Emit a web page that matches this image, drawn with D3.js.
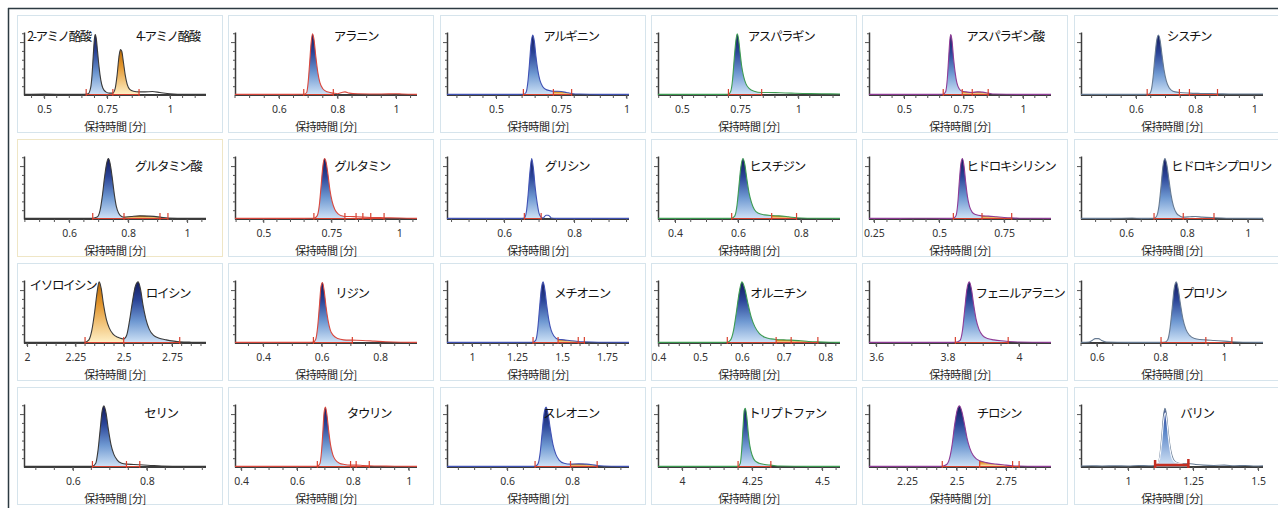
<!DOCTYPE html>
<html>
<head>
<meta charset="utf-8">
<script src="https://cdn.jsdelivr.net/npm/d3@7"></script>
<style>
  body { margin: 0; background: #fff; }
  .x-major text { font-family: "Noto Sans", "DejaVu Sans", sans-serif; font-size: 10.5px; fill: #333; }
  .x-major line, .x-minor line, .y-ticks line { stroke: #555; }
  .x-minor path { stroke: #3c3c3c; stroke-width: 2; }
  .y-ticks path { stroke: #3c3c3c; stroke-width: 1.5; }
  .title { font-family: "Noto Sans CJK JP", sans-serif; font-size: 12.5px; letter-spacing: -1.4px; fill: #111; }
  .xlabel { font-family: "Noto Sans CJK JP", sans-serif; font-size: 11px; letter-spacing: -0.4px; fill: #222; }
</style>
</head>
<body>
<div id="chart-area"></div>
<script>

// panel names (one or two compounds per panel)
var panelNames = [
  ["2-アミノ酪酸", "4-アミノ酪酸"], ["アラニン"], ["アルギニン"], ["アスパラギン"], ["アスパラギン酸"], ["シスチン"],
  ["グルタミン酸"], ["グルタミン"], ["グリシン"], ["ヒスチジン"], ["ヒドロキシリシン"], ["ヒドロキシプロリン"],
  ["イソロイシン", "ロイシン"], ["リジン"], ["メチオニン"], ["オルニチン"], ["フェニルアラニン"], ["プロリン"],
  ["セリン"], ["タウリン"], ["スレオニン"], ["トリプトファン"], ["チロシン"], ["バリン"]
];

// retention time window of each panel [min]
var xDomains = [
  [0.42, 1.143], [0.45, 1.072], [0.312, 1.01], [0.397, 1.18], [0.353, 1.118], [0.414, 1.03],
  [0.447, 1.064], [0.396, 1.065], [0.437, 0.957], [0.346, 0.924], [0.231, 0.93], [0.452, 1.05],
  [1.984, 2.926], [0.304, 0.926], [0.861, 1.872], [0.399, 0.835], [3.58, 4.09], [0.55, 1.123],
  [0.468, 0.96], [0.378, 1.03], [0.415, 0.975], [3.914, 4.564], [2.058, 2.977], [0.819, 1.519]
];

// labelled ticks
var xMajorTicks = [
  [0.5, 0.75, 1], [0.6, 0.8, 1], [0.5, 0.75, 1], [0.5, 0.75, 1], [0.5, 0.75, 1], [0.6, 0.8, 1],
  [0.6, 0.8, 1], [0.5, 0.75, 1], [0.6, 0.8], [0.4, 0.6, 0.8], [0.25, 0.5, 0.75], [0.6, 0.8, 1],
  [2, 2.25, 2.5, 2.75], [0.4, 0.6, 0.8], [1, 1.25, 1.5, 1.75], [0.4, 0.5, 0.6, 0.7, 0.8], [3.6, 3.8, 4], [0.6, 0.8, 1],
  [0.6, 0.8], [0.4, 0.6, 0.8, 1], [0.6, 0.8], [4, 4.25, 4.5], [2.25, 2.5, 2.75], [1, 1.25, 1.5]
];
var xMinorSteps = [0.05, 0.05, 0.05, 0.05, 0.05, 0.05, 0.05, 0.05, 0.05, 0.05, 0.05, 0.05,
  0.05, 0.05, 0.05, 0.025, 0.05, 0.05, 0.05, 0.05, 0.05, 0.05, 0.05, 0.05];

// chromatogram traces [time, relative intensity %]
var traces = [
  [[0.42,1],[0.5,1.5],[0.6,1],[0.66,1.2],[0.675,2],[0.685,12],[0.69,30],[0.695,62],[0.70,90],[0.703,96],[0.707,90],[0.712,70],[0.718,45],[0.725,24],[0.733,11],[0.745,5],[0.76,3],[0.773,3],[0.782,10],[0.79,32],[0.797,60],[0.803,72],[0.808,70],[0.815,52],[0.822,32],[0.83,17],[0.84,9],[0.855,6],[0.877,5],[0.9,5],[0.93,5.5],[0.96,4],[1.0,2],[1.06,1],[1.143,1]],
  [[0.45,1],[0.55,1],[0.65,1],[0.685,1.2],[0.695,4],[0.7,20],[0.705,50],[0.71,82],[0.715,97],[0.72,88],[0.726,62],[0.733,36],[0.74,20],[0.75,10],[0.765,5],[0.786,3],[0.80,2],[0.815,4],[0.826,5],[0.84,3],[0.87,2],[0.95,1.5],[1.0,2],[1.02,1.5],[1.072,1]],
  [[0.312,1],[0.45,1],[0.58,1],[0.605,1.2],[0.615,4],[0.622,20],[0.628,48],[0.634,80],[0.641,95],[0.647,85],[0.653,62],[0.66,40],[0.668,24],[0.678,14],[0.69,9],[0.705,7],[0.72,6],[0.735,6],[0.75,5.5],[0.77,4],[0.79,2.5],[0.82,1.5],[0.9,1],[1.01,1]],
  [[0.397,1],[0.55,1],[0.68,1],[0.70,1.2],[0.71,6],[0.718,25],[0.725,58],[0.732,86],[0.738,97],[0.744,88],[0.75,68],[0.757,46],[0.765,30],[0.775,18],[0.79,10],[0.81,6],[0.843,4],[0.87,4],[0.92,3.5],[0.97,3],[1.02,2.5],[1.1,2],[1.18,1.5]],
  [[0.353,1],[0.5,1],[0.64,1],[0.665,1.2],[0.675,5],[0.682,25],[0.688,60],[0.693,88],[0.697,96],[0.702,86],[0.708,60],[0.715,36],[0.722,20],[0.732,10],[0.745,6],[0.76,5],[0.787,4],[0.81,5],[0.83,4.5],[0.854,3],[0.88,1.5],[1.0,1],[1.118,1]],
  [[0.414,1],[0.55,1],[0.63,1],[0.645,1.5],[0.652,8],[0.658,28],[0.664,60],[0.67,86],[0.676,95],[0.682,86],[0.688,64],[0.695,40],[0.703,22],[0.713,11],[0.725,6],[0.747,4],[0.781,3],[0.82,2.5],[0.876,2],[0.93,1.5],[1.03,1.5]],
  [[0.447,1],[0.55,1],[0.66,1],[0.68,1.2],[0.695,3],[0.705,14],[0.713,38],[0.72,66],[0.727,88],[0.733,96],[0.739,88],[0.746,66],[0.753,40],[0.76,20],[0.768,9],[0.778,4],[0.786,3],[0.81,4],[0.84,5],[0.87,4.5],[0.908,3],[0.935,1.5],[1.0,1],[1.064,1]],
  [[0.396,1],[0.5,1],[0.65,1],[0.686,1.2],[0.698,5],[0.706,22],[0.713,55],[0.719,84],[0.725,96],[0.731,90],[0.738,70],[0.745,46],[0.753,28],[0.763,15],[0.775,8],[0.788,5],[0.80,4],[0.82,4],[0.841,3.5],[0.866,3],[0.895,2.5],[0.944,2],[1.0,1.5],[1.065,1]],
  [[0.437,1],[0.55,1],[0.645,1],[0.658,1.5],[0.664,12],[0.669,40],[0.674,75],[0.679,96],[0.684,80],[0.689,50],[0.695,24],[0.70,9],[0.706,3],[0.712,1.5],[0.716,4],[0.72,6],[0.726,6],[0.731,4],[0.735,1.5],[0.75,1],[0.85,1],[0.957,1]],
  [[0.346,1],[0.45,1],[0.57,1],[0.58,1.3],[0.59,5],[0.597,22],[0.603,52],[0.609,82],[0.616,96],[0.622,86],[0.628,64],[0.635,42],[0.643,26],[0.652,15],[0.665,9],[0.685,6.5],[0.707,5.5],[0.73,5],[0.76,3.5],[0.786,2],[0.82,1.3],[0.924,1]],
  [[0.231,1],[0.35,1],[0.45,1.2],[0.54,1],[0.555,1.3],[0.565,5],[0.572,25],[0.578,60],[0.584,88],[0.59,96],[0.596,84],[0.602,60],[0.609,36],[0.617,20],[0.627,11],[0.64,7],[0.665,5],[0.69,4.5],[0.72,3.5],[0.75,2.5],[0.779,1.8],[0.82,1.2],[0.93,1]],
  [[0.452,1],[0.55,1],[0.62,1.5],[0.65,1],[0.692,1.3],[0.70,4],[0.708,20],[0.715,52],[0.721,83],[0.728,96],[0.734,86],[0.741,62],[0.748,38],[0.756,20],[0.766,9],[0.778,4.5],[0.788,3],[0.81,3.5],[0.828,4],[0.85,3],[0.889,2],[0.93,1.3],[1.05,1]],
  [[1.984,1],[2.1,1],[2.22,1],[2.30,1.3],[2.32,5],[2.335,20],[2.35,50],[2.362,80],[2.373,97],[2.384,86],[2.395,62],[2.41,38],[2.425,24],[2.445,14],[2.47,9],[2.49,7],[2.50,6.5],[2.515,12],[2.53,35],[2.545,65],[2.56,90],[2.575,97],[2.588,84],[2.60,60],[2.615,38],[2.632,22],[2.655,12],[2.68,8],[2.72,5],[2.76,3],[2.79,2],[2.85,1.3],[2.926,1]],
  [[0.304,1],[0.45,1],[0.56,1],[0.572,1.5],[0.58,6],[0.587,28],[0.593,62],[0.598,90],[0.603,96],[0.609,82],[0.615,58],[0.622,36],[0.63,20],[0.64,12],[0.655,7],[0.675,5],[0.705,4.5],[0.74,4],[0.78,3],[0.82,2],[0.87,1.3],[0.926,1]],
  [[0.861,1],[1.0,1],[1.2,1],[1.339,1.3],[1.355,5],[1.365,22],[1.375,55],[1.385,86],[1.395,97],[1.405,84],[1.415,60],[1.427,36],[1.44,20],[1.455,11],[1.478,6],[1.51,5],[1.55,3.5],[1.59,2.5],[1.624,2],[1.7,1.3],[1.872,1]],
  [[0.399,1],[0.48,1],[0.55,1],[0.565,1.3],[0.573,5],[0.58,20],[0.587,50],[0.594,82],[0.60,97],[0.607,86],[0.614,64],[0.622,42],[0.631,26],[0.642,15],[0.655,9],[0.67,6.5],[0.682,5.5],[0.70,5],[0.718,4.5],[0.74,3.5],[0.76,2.5],[0.782,1.8],[0.81,1.2],[0.835,1]],
  [[3.58,1],[3.7,1],[3.8,1],[3.822,1.3],[3.835,4],[3.842,20],[3.848,52],[3.854,84],[3.861,97],[3.867,86],[3.873,62],[3.88,38],[3.888,22],[3.898,12],[3.912,7],[3.93,5],[3.95,3.5],[3.97,2.5],[4.0,1.5],[4.09,1]],
  [[0.55,1],[0.575,1.5],[0.585,4],[0.595,7],[0.605,7],[0.615,4],[0.63,1.5],[0.7,1],[0.8,1],[0.815,1.5],[0.823,5],[0.83,22],[0.837,55],[0.843,85],[0.85,97],[0.856,86],[0.863,62],[0.871,38],[0.88,22],[0.892,12],[0.908,7],[0.925,5.5],[0.943,5],[0.97,4],[1.0,3],[1.025,2],[1.06,1.3],[1.123,1]],
  [[0.468,1],[0.55,1],[0.64,1],[0.653,1.3],[0.662,6],[0.668,26],[0.674,60],[0.679,88],[0.684,97],[0.69,85],[0.696,60],[0.703,36],[0.711,20],[0.72,11],[0.732,6],[0.745,4.5],[0.765,4],[0.781,3.5],[0.81,2.5],[0.84,1.5],[0.9,1],[0.96,1]],
  [[0.378,1],[0.5,1],[0.66,1],[0.673,1.3],[0.682,5],[0.688,25],[0.693,58],[0.697,86],[0.702,95],[0.707,84],[0.713,60],[0.72,36],[0.728,20],[0.738,11],[0.752,6],[0.77,4],[0.792,3],[0.812,3],[0.835,2.5],[0.859,2],[0.9,1.5],[0.95,1.2],[1.03,1]],
  [[0.415,1],[0.55,1],[0.67,1],[0.686,1.3],[0.695,5],[0.702,24],[0.708,56],[0.714,86],[0.72,95],[0.726,84],[0.733,60],[0.741,36],[0.75,20],[0.76,11],[0.775,6],[0.795,4.5],[0.82,5],[0.845,4.5],[0.877,2.5],[0.92,1.3],[0.975,1]],
  [[3.914,1],[4.05,1],[4.19,1],[4.2,1.3],[4.208,6],[4.213,28],[4.218,65],[4.222,90],[4.226,93],[4.231,80],[4.236,56],[4.242,34],[4.25,19],[4.26,10],[4.275,6],[4.295,4],[4.317,3],[4.35,1.5],[4.45,1],[4.564,1]],
  [[2.058,1],[2.2,1],[2.4,1],[2.428,1.3],[2.45,4],[2.465,14],[2.478,36],[2.49,66],[2.503,90],[2.515,97],[2.527,88],[2.54,68],[2.553,46],[2.567,30],[2.583,19],[2.6,13],[2.617,10],[2.65,7],[2.7,4.5],[2.75,3],[2.783,2],[2.816,1.5],[2.9,1],[2.977,1]],
  [[0.819,1.5],[0.86,2],[0.9,1.5],[0.95,2],[1.0,1.5],[1.04,2.5],[1.08,2],[1.104,2.5],[1.115,5],[1.123,20],[1.13,50],[1.136,80],[1.142,93],[1.148,82],[1.154,58],[1.161,34],[1.169,18],[1.18,9],[1.195,6],[1.215,5],[1.232,5.5],[1.26,4],[1.29,3],[1.33,2.5],[1.37,3],[1.41,2],[1.45,2.5],[1.49,1.5],[1.519,2]]
];

// second (overlaid) valine trace
var valineOverlay = [[1.112,3],[1.122,14],[1.13,42],[1.137,74],[1.143,86],[1.149,72],[1.156,44],[1.164,22],[1.174,10],[1.19,6],[1.21,5]];

// integrated peak regions: [start, end, component] b = main, o = neighbour
var peakFills = [
  [[0.675, 0.773, "b"], [0.773, 0.877, "o"]], [[0.685, 0.786, "b"]], [[0.605, 0.72, "b"], [0.72, 0.79, "o"]],
  [[0.70, 0.843, "b"]], [[0.665, 0.745, "b"], [0.745, 0.854, "o"]], [[0.645, 0.747, "b"]],
  [[0.68, 0.786, "b"], [0.786, 0.908, "o"]], [[0.686, 0.80, "b"]], [[0.658, 0.706, "b"]],
  [[0.58, 0.707, "b"], [0.707, 0.786, "o"]], [[0.555, 0.665, "b"], [0.665, 0.779, "o"]], [[0.692, 0.788, "b"]],
  [[2.30, 2.50, "o"], [2.50, 2.79, "b"]], [[0.572, 0.705, "b"]], [[1.339, 1.478, "b"], [1.478, 1.59, "o"]],
  [[0.565, 0.682, "b"], [0.682, 0.782, "o"]], [[3.822, 3.97, "b"]], [[0.8, 0.943, "b"]],
  [[0.653, 0.745, "b"]], [[0.673, 0.792, "b"]], [[0.686, 0.795, "b"], [0.795, 0.877, "o"]],
  [[4.2, 4.317, "b"]], [[2.428, 2.617, "b"], [2.617, 2.783, "o"]], [[1.104, 1.232, "b"]]
];

// integration marks [min]
var intMarks = [
  [0.667, 0.773, 0.877], [0.685, 0.786], [0.605, 0.72, 0.79], [0.70, 0.843], [0.665, 0.745, 0.787, 0.854], [0.638, 0.747, 0.781, 0.876],
  [0.68, 0.786, 0.908, 0.935], [0.686, 0.80, 0.841, 0.866, 0.895, 0.944], [0.658, 0.706], [0.58, 0.707, 0.786], [0.555, 0.665, 0.779], [0.692, 0.788, 0.889],
  [2.30, 2.50, 2.79], [0.572, 0.705], [1.339, 1.478, 1.59, 1.624], [0.565, 0.682, 0.718, 0.782], [3.822, 3.97], [0.802, 0.943, 1.025],
  [0.653, 0.745, 0.781], [0.673, 0.792, 0.812, 0.859], [0.686, 0.795, 0.877], [4.2, 4.317], [2.428, 2.617, 2.783, 2.816], []
];
var valineBracket = [1.104, 1.232];

// layout / styling (not data)
var titleSpots = [
  [[42, 20], [151, 20]], [[128, 20]], [[131, 20]], [[130, 20]], [[143, 20]], [[115, 20]],
  [[151, 26]], [[134, 26]], [[127, 26]], [[126, 26]], [[149, 26]], [[147, 26]],
  [[46, 21], [151, 29]], [[124, 29]], [[142, 29]], [[127, 29]], [[158, 29]], [[130, 29]],
  [[144, 25]], [[141, 25]], [[131, 25]], [[136, 25]], [[137, 25]], [[123, 25]]
];
var traceColors = ["#3a3a3a", "#d9483e", "#4052b4", "#3d9b52", "#8e3c96", "#667a92"];
var markColor = "#d8412f";

var svg = d3.select("#chart-area").append("svg")
    .attr("width", 1278)
    .attr("height", 508);

var defs = svg.append("defs");

function addGradient(id, stops) {
  var grad = defs.append("linearGradient")
      .attr("id", id)
      .attr("x1", 0).attr("y1", 0)
      .attr("x2", 0).attr("y2", 1);
  stops.forEach(function(s) {
    grad.append("stop").attr("offset", s[0]).attr("stop-color", s[1]);
  });
}
addGradient("peak-blue", [["0%", "#131a5c"], ["30%", "#2b4598"], ["65%", "#6f99d2"], ["100%", "#cfe2f6"]]);
addGradient("peak-orange", [["0%", "#b76806"], ["35%", "#e2952c"], ["100%", "#fff0c6"]]);
addGradient("peak-light", [["0%", "#24398e"], ["40%", "#5b86c8"], ["100%", "#d6e6f7"]]);

// window frame
svg.append("line").attr("x1", 8).attr("x2", 1278).attr("y1", 8.5).attr("y2", 8.5)
    .attr("stroke", "#2c3a42").attr("stroke-width", 1.5);
svg.append("line").attr("x1", 8.5).attr("x2", 8.5).attr("y1", 8).attr("y2", 508)
    .attr("stroke", "#2c3a42").attr("stroke-width", 1.5);

function stepTicks(domain, step) {
  var out = [], k = Math.ceil(domain[0] / step - 1e-9);
  while (k * step <= domain[1] + 1e-9) { out.push(+(k * step).toFixed(4)); k++; }
  return out;
}

function PeakPanel(_svg, _index) {
  this.svg = _svg;
  this.index = _index;
  this.initVis();
}

PeakPanel.prototype.initVis = function() {
  var vis = this;
  var i = vis.index;

  vis.col = i % 6;
  vis.row = Math.floor(i / 6);
  vis.color = traceColors[vis.col];

  vis.g = vis.svg.append("g")
      .attr("transform", "translate(" + Math.round(17 + vis.col * 211.3) + "," + (15 + vis.row * 124) + ")");

  vis.g.append("rect")
      .attr("x", 0.5).attr("y", 0.5)
      .attr("width", 205).attr("height", 117)
      .attr("fill", "#fff")
      .attr("stroke", i == 6 ? "#efe6c6" : "#d6e4ec");

  vis.x = d3.scaleLinear().domain(xDomains[i]).range([7, 189]);
  vis.y = d3.scaleLinear().domain([0, 100]).range([80, 17]);

  // y axis
  vis.g.append("g")
      .attr("class", "y-ticks")
      .attr("transform", "translate(7,0)")
      .call(d3.axisLeft(vis.y).tickValues([14, 28, 42, 56, 70, 98]).tickSize(2).tickSizeOuter(0).tickFormat(""));
  vis.g.append("g")
      .attr("class", "y-ticks")
      .attr("transform", "translate(7,0)")
      .call(d3.axisLeft(vis.y).tickValues([84]).tickSize(4).tickSizeOuter(0).tickFormat(""))
      .select(".domain").remove();

  // x axis
  vis.g.append("g")
      .attr("class", "x-minor")
      .attr("transform", "translate(0,80)")
      .call(d3.axisBottom(vis.x).tickValues(stepTicks(xDomains[i], xMinorSteps[i]))
        .tickSize(3).tickSizeOuter(0).tickFormat("").offset(0));
  vis.g.append("g")
      .attr("class", "x-major")
      .attr("transform", "translate(0,80)")
      .call(d3.axisBottom(vis.x).tickValues(xMajorTicks[i]).tickSize(4).tickPadding(7)
        .tickFormat(function(d) { return String(+d.toFixed(2)); }))
      .select(".domain").remove();

  vis.g.append("text")
      .attr("class", "xlabel")
      .attr("x", 98).attr("y", 111)
      .attr("text-anchor", "middle")
      .attr("dominant-baseline", "central")
      .text("保持時間 [分]");

  vis.updateVis();
};

PeakPanel.prototype.updateVis = function() {
  var vis = this;
  var i = vis.index;
  var data = traces[i];

  var line = d3.line()
      .curve(d3.curveMonotoneX)
      .x(function(d) { return vis.x(d[0]); })
      .y(function(d) { return vis.y(d[1]); });

  var area = d3.area()
      .curve(d3.curveMonotoneX)
      .x(function(d) { return vis.x(d[0]); })
      .y0(vis.y(0.6))
      .y1(function(d) { return vis.y(d[1]); });

  // filled peaks
  vis.g.selectAll(".peak")
      .data(peakFills[i])
      .enter().append("path")
      .attr("class", "peak")
      .attr("d", function(f) {
        return area(data.filter(function(d) { return d[0] >= f[0] - 1e-6 && d[0] <= f[1] + 1e-6; }));
      })
      .attr("fill", function(f) {
        if (f[2] == "o") return "url(#peak-orange)";
        return i == 23 ? "url(#peak-light)" : "url(#peak-blue)";
      });

  // chromatogram line
  vis.g.append("path")
      .datum(data)
      .attr("d", line)
      .attr("fill", "none")
      .attr("stroke", vis.color)
      .attr("stroke-width", 1.1);

  if (i == 23) {
    vis.g.append("path")
        .datum(valineOverlay)
        .attr("d", line)
        .attr("fill", "none")
        .attr("stroke", "#f4f8ff")
        .attr("stroke-width", 1.1);

    // manual integration bracket
    var b = valineBracket;
    vis.g.append("path")
        .attr("d", "M" + vis.x(b[0]) + "," + (vis.y(0) + 1) + "V" + (vis.y(0) - 7) +
          "M" + vis.x(b[0]) + "," + (vis.y(0) - 2) + "H" + vis.x(b[1]) +
          "M" + vis.x(b[1]) + "," + (vis.y(0) + 1) + "V" + (vis.y(0) - 8))
        .attr("fill", "none")
        .attr("stroke", "#c42e22")
        .attr("stroke-width", 2.5);
  }

  // integration baseline and marks
  var marks = intMarks[i];
  if (marks.length) {
    vis.g.append("line")
        .attr("x1", vis.x(marks[0])).attr("x2", vis.x(marks[marks.length - 1]))
        .attr("y1", vis.y(0) - 0.5).attr("y2", vis.y(0) - 0.5)
        .attr("stroke", markColor).attr("stroke-width", 1);
  }
  vis.g.selectAll(".int-mark")
      .data(marks)
      .enter().append("line")
      .attr("class", "int-mark")
      .attr("x1", function(d) { return vis.x(d); })
      .attr("x2", function(d) { return vis.x(d); })
      .attr("y1", vis.y(0) - 6)
      .attr("y2", vis.y(0) + 1)
      .attr("stroke", markColor)
      .attr("stroke-width", 1.2);

  // compound names
  vis.g.selectAll(".title")
      .data(panelNames[i])
      .enter().append("text")
      .attr("class", "title")
      .attr("x", function(d, k) { return titleSpots[i][k][0]; })
      .attr("y", function(d, k) { return titleSpots[i][k][1]; })
      .attr("text-anchor", "middle")
      .attr("dominant-baseline", "central")
      .text(function(d) { return d; });
};

var panels = [];
for (var p = 0; p < panelNames.length; p++) {
  panels.push(new PeakPanel(svg, p));
}

</script>
</body>
</html>
